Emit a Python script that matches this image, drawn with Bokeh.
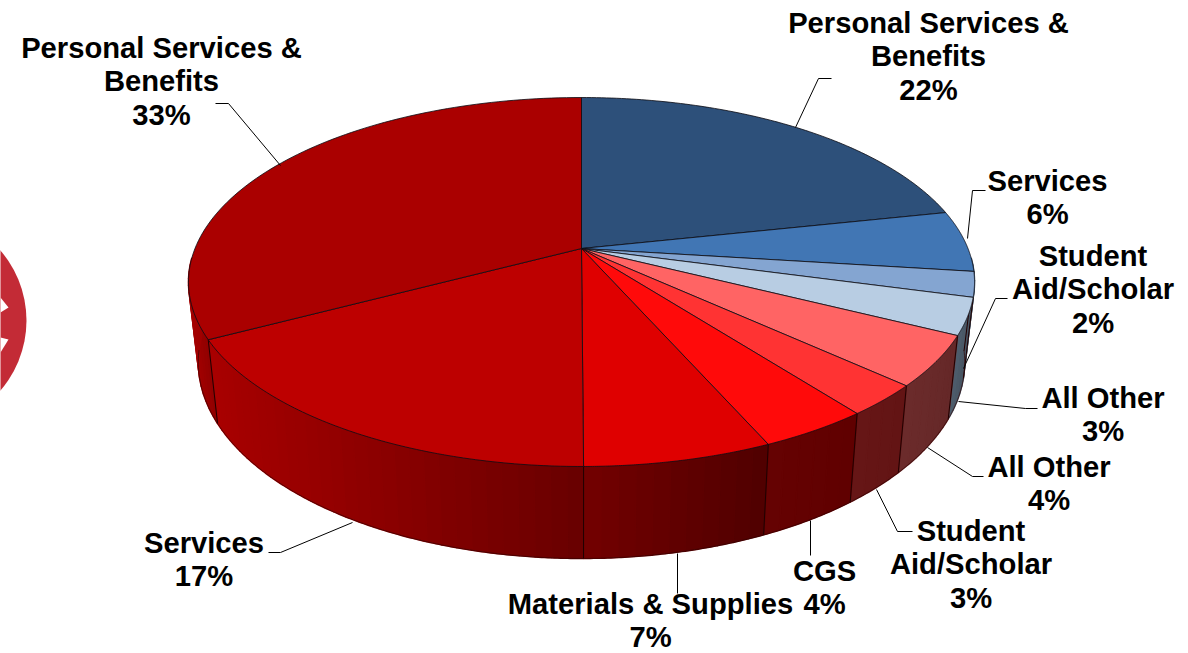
import numpy as np
from bokeh.plotting import figure
from bokeh.core.properties import value
from bokeh.embed import file_html
from bokeh.resources import INLINE

# ---------- data (slice order clockwise from 12 o'clock)
categories = ["Personal Services & Benefits", "Services", "Student Aid/Scholar", "All Other",
              "All Other", "Student Aid/Scholar", "CGS", "Materials & Supplies", "Services",
              "Personal Services & Benefits"]
shares = [21.65, 5.35, 2.2, 3.2, 4.4, 2.75, 3.85, 6.53, 17.32, 32.75]
label_pcts = ["22%", "6%", "2%", "3%", "4%", "3%", "4%", "7%", "17%", "33%"]

# ---------- styles
top_colors = ["#2d507a", "#4176b4", "#84a5d1", "#b8cde3", "#ff6464", "#ff3333",
              "#ff0a0a", "#df0000", "#bd0000", "#aa0000"]
side_left = ["#3d4d5f", "#3d4d5f", "#3d4d5f", "#4e5e6d", "#6c2b2b", "#661616",
             "#660202", "#730000", "#a80000", "#a00000"]
side_right = ["#3d4d5f", "#3d4d5f", "#3d4d5f", "#46525f", "#652828", "#631414",
              "#600000", "#4f0000", "#680000", "#900000"]

# ---------- projection of the tilted disc
CX, CY = 581.0, 248.0
A, B, K = 386.5, 178.4, 0.1816
SX, SY_A, SY_B = 0.975, 1.065, 61.7


def top_xy(t):
    x, y = np.sin(t), np.cos(t)
    w = 1 + K * y
    return CX + A * x / w, CY - B * y / w


def bot_xy(t):
    X, Y = top_xy(t)
    return CX + (X - CX) * SX, SY_A * Y + SY_B


edges = np.cumsum([0.0] + shares) / sum(shares) * 2 * np.pi

p = figure(width=1188, height=653, x_range=(0, 1188), y_range=(653, 0),
           output_backend="svg", toolbar_location=None, min_border=0)
p.axis.visible = False
p.grid.visible = False
p.outline_line_color = None
p.background_fill_color = "white"
p.border_fill_color = "white"

# ---------- logo fragment
logo_cx, logo_cy, logo_r = -81, 320, 107
p.ellipse(x=[logo_cx], y=[logo_cy], width=[2 * logo_r], height=[2 * logo_r],
          fill_color="#c32b36", line_color=None)
logo_cut_x = [[0, 8, 0], [0, 8, 0]]
logo_cut_y = [[297, 307, 312], [337, 339, 352]]
p.patches(logo_cut_x, logo_cut_y, fill_color="white", line_color=None)

# ---------- side wall
lo, hi = np.radians(93), np.radians(267)
sx, sy, sc = [], [], []
sep_x, sep_y = [], []
for i in range(len(shares)):
    a, b = max(edges[i], lo), min(edges[i + 1], hi)
    if b <= a:
        continue
    n = max(2, int((b - a) / np.radians(2.0)))
    ts = np.linspace(a, b, n + 1)
    xa, _ = top_xy(a)
    xb, _ = top_xy(b)
    c0 = np.array([int(side_right[i][j:j + 2], 16) for j in (1, 3, 5)], float)
    c1 = np.array([int(side_left[i][j:j + 2], 16) for j in (1, 3, 5)], float)
    for k in range(n):
        t2 = np.linspace(ts[k], ts[k + 1], 6)
        X1, Y1 = top_xy(t2)
        X2, Y2 = bot_xy(t2)
        sx.append(list(X1) + list(X2[::-1]))
        sy.append(list(Y1) + list(Y2[::-1]))
        f = (xa - 0.5 * (X1[0] + X1[-1])) / (xa - xb) if xa != xb else 0.0
        col = c0 + (c1 - c0) * f
        sc.append("#%02x%02x%02x" % tuple(int(round(v)) for v in col))
    if edges[i] > lo and edges[i] < hi:
        X1, Y1 = top_xy(edges[i])
        X2, Y2 = bot_xy(edges[i])
        sep_x.append([float(X1), float(X2)])
        sep_y.append([float(Y1), float(Y2)])
p.patches(sx, sy, fill_color=sc, line_color=sc, line_width=1.5)
p.multi_line(sep_x, sep_y, line_color="#200000", line_width=1)
rim_t = np.linspace(np.radians(97), np.radians(263), 200)
rx, ry = bot_xy(rim_t)
p.line(rx, ry, line_color="#300000", line_width=0.8, line_alpha=0.8)

# ---------- top face
wx, wy = [], []
for i in range(len(shares)):
    ts = np.linspace(edges[i], edges[i + 1], 90)
    X, Y = top_xy(ts)
    wx.append([CX] + list(X))
    wy.append([CY] + list(Y))
p.patches(wx, wy, fill_color=top_colors, line_color="#0c0c14", line_width=0.9, line_alpha=0.9)

# ---------- leader lines
lead_x = [[795, 818, 831], [967, 972, 985], [963, 995, 1007], [958, 1025, 1037],
          [927, 972, 983], [876, 897, 912], [810, 810], [677, 677], [352, 280, 268], [280, 228, 215]]
lead_y = [[127, 78, 78], [238, 190, 190], [368, 298, 298], [401, 408, 408],
          [447, 476, 476], [489, 531, 531], [520, 555], [553, 593], [522, 552, 552], [165, 103, 103]]
p.multi_line(lead_x, lead_y, line_color="black", line_width=1)

# ---------- labels
label_lines = [
    (["Personal Services &", "Benefits", label_pcts[0]], 928, 22),
    (["Services", label_pcts[1]], 1047, 180),
    (["Student", "Aid/Scholar", label_pcts[2]], 1092.5, 255),
    (["All Other", label_pcts[3]], 1102.5, 397),
    (["All Other", label_pcts[4]], 1048.5, 466),
    (["Student", "Aid/Scholar", label_pcts[5]], 970.5, 530),
    (["CGS", label_pcts[6]], 824, 570),
    (["Materials & Supplies", label_pcts[7]], 650, 603),
    (["Services", label_pcts[8]], 203.5, 542),
    (["Personal Services &", "Benefits", label_pcts[9]], 161, 47),
]
tx, ty, tt = [], [], []
for lines, x0, y0 in label_lines:
    for j, s in enumerate(lines):
        tx.append(x0)
        ty.append(y0 + j * 33.8)
        tt.append(s)
p.text(x=tx, y=ty, text=tt, text_font=value("Liberation Sans"), text_font_style="bold",
       text_font_size="29.2px", text_color="black", text_align="center", text_baseline="middle")

open("out.html", "w").write(file_html(p, INLINE))
